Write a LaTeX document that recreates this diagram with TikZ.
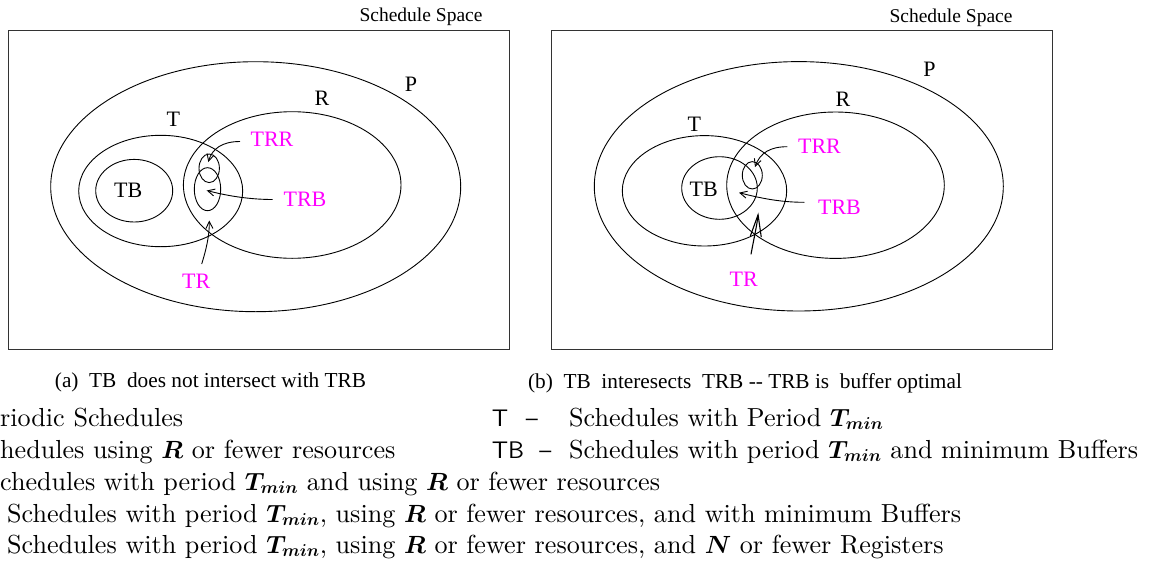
\documentclass[tikz,border=0pt]{standalone}
\usepackage{fontspec}
\usepackage{bm}
\usetikzlibrary{shapes.geometric,arrows.meta}
\newfontfamily\tms{Liberation Serif}
\newfontfamily\cmrom{lmroman10-regular.otf}
\newfontfamily\cmsans{lmsans10-regular.otf}
\definecolor{lblmag}{HTML}{FF00FF}
\tikzset{
  ell/.style={draw, ellipse, inner sep=0pt, line width=0.9pt},
  frame/.style={draw=black!80, line width=1.2pt},
  lbl/.style={inner sep=0pt, font=\tms\fontsize{22}{24}\selectfont},
  mlbl/.style={lbl, text=lblmag},
  ttl/.style={inner sep=0pt, anchor=base, font=\tms\fontsize{19.5}{22}\selectfont},
  captxt/.style={inner sep=0pt, anchor=base, font=\tms\fontsize{21.3}{24}\selectfont},
  leg/.style={inner sep=0pt, anchor=base west, font=\cmrom\fontsize{26.1}{30}\selectfont},
  legs/.style={inner sep=0pt, anchor=base west, font=\cmsans\fontsize{24}{28}\selectfont},
  arr/.style={line width=0.9pt, -{Straight Barb[length=7pt,width=7pt]}},
  bigarr/.style={line width=1.1pt, -{Straight Barb[length=22pt,width=11pt]}},
}
\begin{document}
\begin{tikzpicture}[x=1pt,y=-1pt]
\useasboundingbox (0,0) rectangle (1157,560);

% ---------- panel (a) ----------
\draw[frame] (8.5,30.7) rectangle (509.3,349.3);
\node[ttl] (ssa) at (421,21.5) {Schedule Space};
\node[ell, minimum width=410pt, minimum height=250pt] (Pa) at (255.7,186.7) {};
\node[ell, minimum width=217.6pt, minimum height=146.6pt] (Ra) at (292.2,185) {};
\node[ell, minimum width=164pt, minimum height=111.4pt] (Ta) at (160.7,191) {};
\node[ell, minimum width=77pt, minimum height=62.6pt] (TBa) at (134.2,190.7) {};
\node[ell, minimum width=20.4pt, minimum height=28.6pt] (TRRea) at (209.2,168.3) {};
\node[ell, minimum width=26.4pt, minimum height=43pt] (TRBea) at (207.5,189.2) {};
\node[lbl] (Pla) at (411,84.5) {P};
\node[lbl] (Rla) at (322,98) {R};
\node[lbl] (Tla) at (173.3,119.7) {T};
\node[lbl] (TBla) at (128.3,190.8) {TB};
\node[mlbl] (TRRla) at (272,139.7) {TRR};
\node[mlbl] (TRBla) at (305,199.8) {TRB};
\node[mlbl] (TRla) at (196.3,281.3) {TR};
\coordinate (trrTa) at (240,141.5);
\coordinate (trrHa) at (208.3,162);
\coordinate (trbTa) at (272.7,199.5);
\coordinate (trbHa) at (206.7,190.5);
\coordinate (trTa) at (201.7,264);
\coordinate (trHa) at (209.3,220.5);
\draw[arr] (trrTa) .. controls (222,141.5) and (212,149) .. (trrHa);
\draw[arr] (trbTa) .. controls (250,199.5) and (228,196) .. (trbHa);
\draw[arr] (trTa) .. controls (206,250) and (209.5,236) .. (trHa);
\node[captxt] (capa) at (210.5,387) {(a)\ \ TB\ \ does not intersect with TRB};

% ---------- panel (b) ----------
\draw[frame] (551.7,30.7) rectangle (1052.7,349.3);
\node[ttl] (ssb) at (951,22) {Schedule Space};
\node[ell, minimum width=409pt, minimum height=249.4pt] (Pb) at (798.8,186.3) {};
\node[ell, minimum width=217.6pt, minimum height=146.4pt] (Rb) at (835.5,185.2) {};
\node[ell, minimum width=164.4pt, minimum height=110.4pt] (Tb) at (704.5,190.8) {};
\node[ell, minimum width=75.6pt, minimum height=62.6pt] (TBb) at (719.5,188) {};
\node[ell, minimum width=20pt, minimum height=27.4pt] (TRReb) at (752.3,175.3) {};
\node[lbl] (Plb) at (929.5,68.8) {P};
\node[lbl] (Rlb) at (843,99) {R};
\node[lbl] (Tlb) at (694.3,123.8) {T};
\node[lbl] (TBlb) at (703.7,189.5) {TB};
\node[mlbl] (TRRlb) at (819.5,146.5) {TRR};
\node[mlbl] (TRBlb) at (839.5,207.5) {TRB};
\node[mlbl] (TRlb) at (743.7,279.2) {TR};
\coordinate (trrTb) at (787.3,146.7);
\coordinate (trrHb) at (755,167);
\coordinate (trbTb) at (804.3,202.3);
\coordinate (trbHb) at (739,192.7);
\coordinate (trTb) at (751,254.3);
\coordinate (trHb) at (758.3,212.5);
\draw[arr] (trrTb) .. controls (770,146.7) and (760,153) .. (trrHb);
\draw[arr] (trbTb) .. controls (780,202.3) and (760,198) .. (trbHb);
\draw[bigarr] (trTb) .. controls (754,238) and (757,225) .. (trHb);
\node[captxt] (capb) at (745,388) {(b)\ \ TB\ \ interesects\ \ TRB -\kern0pt- TRB is\ \ buffer optimal};

% ---------- legend ----------
\node[leg] (l1) at (0,426) {riodic Schedules};
\node[leg] (l2) at (0,458) {hedules using $\bm{R}$ or fewer resources};
\node[leg] (l3) at (0,490) {chedules with period $\bm{T_{min}}$ and using $\bm{R}$ or fewer resources};
\node[leg] (l4) at (7,522) {Schedules with period $\bm{T_{min}}$, using $\bm{R}$ or fewer resources, and with minimum Buffers};
\node[leg] (l5) at (7,553) {Schedules with period $\bm{T_{min}}$, using $\bm{R}$ or fewer resources, and $\bm{N}$ or fewer Registers};
\node[legs] (kT) at (491.7,426) {\makebox[34pt][l]{T}–};
\node[legs] (kTB) at (491.7,458) {\makebox[47.6pt][l]{TB}–};
\node[leg] (dT) at (569,426) {Schedules with Period $\bm{T_{min}}$};
\node[leg] (dTB) at (569,458) {Schedules with period $\bm{T_{min}}$ and minimum Buffers};
\end{tikzpicture}
\end{document}
